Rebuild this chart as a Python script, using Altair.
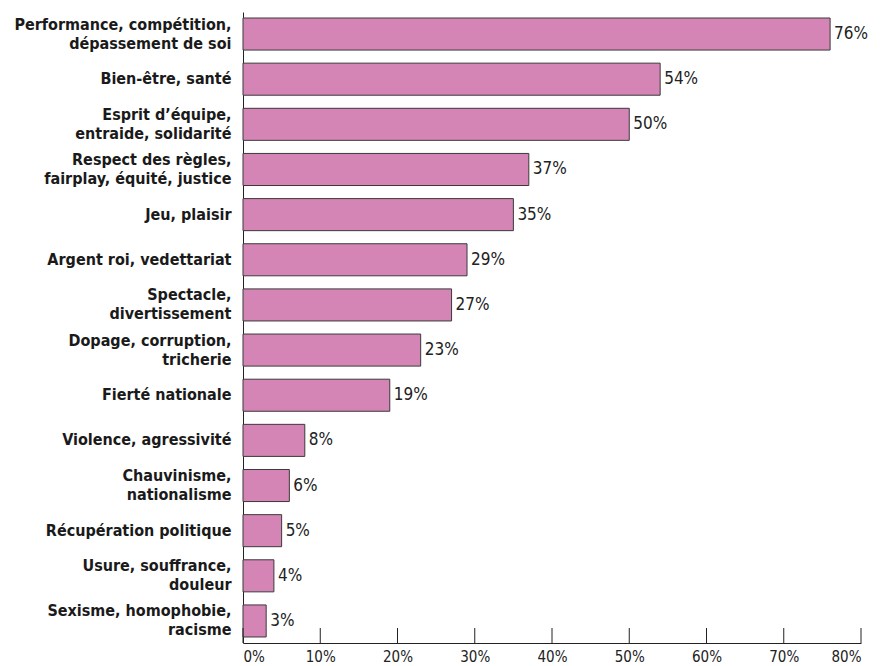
import altair as alt
import pandas as pd

categories = [
    "Performance, compétition,|dépassement de soi",
    "Bien-être, santé",
    "Esprit d’équipe,|entraide, solidarité",
    "Respect des règles,|fairplay, équité, justice",
    "Jeu, plaisir",
    "Argent roi, vedettariat",
    "Spectacle,|divertissement",
    "Dopage, corruption,|tricherie",
    "Fierté nationale",
    "Violence, agressivité",
    "Chauvinisme,|nationalisme",
    "Récupération politique",
    "Usure, souffrance,|douleur",
    "Sexisme, homophobie,|racisme",
]
values = [76, 54, 50, 37, 35, 29, 27, 23, 19, 8, 6, 5, 4, 3]
tick_values = [0, 10, 20, 30, 40, 50, 60, 70, 80]

df = pd.DataFrame({"cat": categories, "val": values})
df["lbl"] = [f"{v}%" for v in values]
ticks_df = pd.DataFrame({"t": tick_values})

FONT = "DejaVu Sans Condensed, Liberation Sans Narrow, sans-serif"
W, H = 618, 631

x_scale = alt.Scale(domain=[0, 80], nice=False, zero=True)
y_scale = alt.Scale(paddingInner=0.29, paddingOuter=0.133)

bars = alt.Chart(df).mark_bar(
    color="#d585b5", stroke="#3a3a3a", strokeWidth=1
).encode(
    x=alt.X("val:Q", scale=x_scale,
            axis=alt.Axis(values=tick_values, labelExpr="datum.value + '%'",
                          title=None, grid=False, ticks=False,
                          domainColor="#222", domainWidth=1,
                          labelFont=FONT, labelFontSize=15, labelColor="#222",
                          labelPadding=6, labelFlush=True)),
    y=alt.Y("cat:N", sort=None, scale=y_scale,
            axis=alt.Axis(title=None, ticks=False, domainColor="#222", domainWidth=1,
                          labelExpr="split(datum.value, '|')",
                          labelOffset={"condition": {"test": "indexof(datum.value, '|') >= 0",
                                                     "value": -9.5},
                                       "value": 0},
                          labelFont=FONT, labelFontSize=16, labelFontWeight="bold",
                          labelColor="#1a1a1a", labelLineHeight=19,
                          labelPadding=12, labelLimit=400)),
)

text = alt.Chart(df).mark_text(
    align="left", baseline="middle", dx=4, font=FONT, fontSize=17, color="#222"
).encode(
    x=alt.X("val:Q", scale=x_scale),
    y=alt.Y("cat:N", sort=None, scale=y_scale),
    text="lbl:N",
)

tick_rules = alt.Chart(ticks_df).mark_rule(color="#222", strokeWidth=1).encode(
    x=alt.X("t:Q", scale=x_scale),
    y=alt.value(H - 15),
    y2=alt.value(H),
)

chart = alt.layer(bars, text, tick_rules).properties(
    width=W, height=H,
    autosize=alt.AutoSizeParams(type="none"),
    padding={"left": 235, "top": 4, "right": 17, "bottom": 25},
    background="white",
).configure_view(stroke=None)

chart.save("out.html", embed_options={"renderer": "svg", "actions": False})
